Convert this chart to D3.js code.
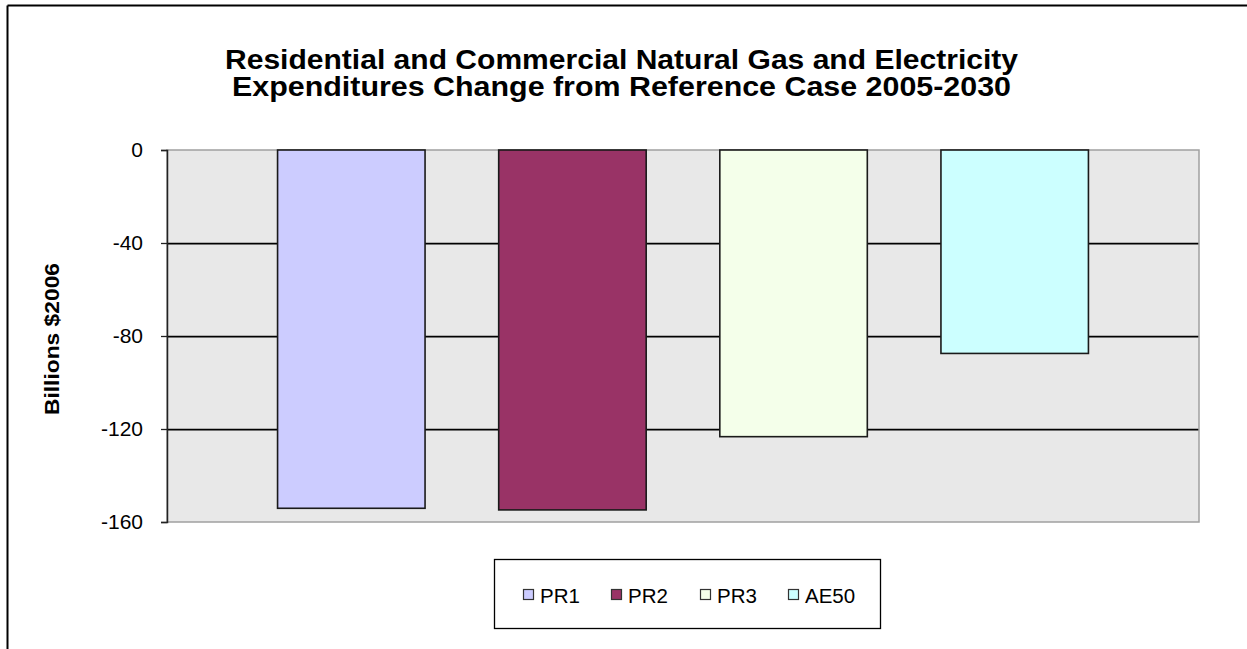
<!DOCTYPE html>
<html>
<head>
<meta charset="utf-8">
<script src="https://cdn.jsdelivr.net/npm/d3@7"></script>
<style>
  html, body { margin: 0; padding: 0; background: #fff; }
  svg { display: block; }
</style>
</head>
<body>
<svg id="chart" width="1247" height="649"></svg>
<script>
// ---- data ----
const titleLines = [
  "Residential and Commercial Natural Gas and Electricity",
  "Expenditures Change from Reference Case 2005-2030"
];
const yAxisTitle = "Billions $2006";
const seriesNames = ["PR1", "PR2", "PR3", "AE50"];
const seriesValues = [-154.1, -154.8, -123.3, -87.5];
const seriesColors = ["#CCCCFF", "#993366", "#F4FFEA", "#CCFFFF"];
const yTicks = [0, -40, -80, -120, -160];

// ---- layout ----
const svg = d3.select("#chart");
const W = 1247, H = 649;
const plot = { left: 167, right: 1199, top: 150, bottom: 522 };
const FONT = "'Liberation Sans', Arial, sans-serif";

// outer border (top + left visible)
svg.append("line").attr("x1", 7.5).attr("x2", W).attr("y1", 5.5).attr("y2", 5.5)
  .attr("stroke", "#000").attr("stroke-width", 2);
svg.append("line").attr("x1", 7.5).attr("x2", 7.5).attr("y1", 5.5).attr("y2", H)
  .attr("stroke", "#000").attr("stroke-width", 2);

// title
const titleWidths = [793, 779];
const title = svg.append("g");
titleLines.forEach((t, i) => {
  title.append("text")
    .attr("x", 621.5).attr("y", 68.5 + i * 27)
    .attr("text-anchor", "middle")
    .attr("font-family", FONT)
    .attr("font-weight", "bold")
    .attr("font-size", 27)
    .attr("textLength", titleWidths[i])
    .attr("lengthAdjust", "spacingAndGlyphs")
    .attr("fill", "#000")
    .text(t);
});

// scales
const y = d3.scaleLinear().domain([-160, 0]).range([plot.bottom, plot.top]);
const x = d3.scaleBand().domain(seriesNames).range([plot.left, plot.right])
  .paddingInner(0.333).paddingOuter(0.5);

// plot background
svg.append("rect")
  .attr("x", plot.left).attr("y", plot.top)
  .attr("width", plot.right - plot.left).attr("height", plot.bottom - plot.top)
  .attr("fill", "#E8E8E8");

// gridlines (skip 0 and -160 which sit on the border)
const grid = svg.append("g");
yTicks.filter(v => v !== 0 && v !== -160).forEach(v => {
  grid.append("line")
    .attr("x1", plot.left).attr("x2", plot.right)
    .attr("y1", Math.round(y(v)) + 1.5).attr("y2", Math.round(y(v)) + 1.5)
    .attr("stroke", "#999").attr("stroke-width", 1);
  grid.append("line")
    .attr("x1", plot.left).attr("x2", plot.right)
    .attr("y1", Math.round(y(v)) + 0.5).attr("y2", Math.round(y(v)) + 0.5)
    .attr("stroke", "#000").attr("stroke-width", 1.3);
});

// plot border (gray)
svg.append("rect")
  .attr("x", plot.left).attr("y", plot.top)
  .attr("width", plot.right - plot.left).attr("height", plot.bottom - plot.top)
  .attr("fill", "none").attr("stroke", "#A0A0A0").attr("stroke-width", 1.5);

// bars
svg.append("g").selectAll("rect")
  .data(seriesNames.map((n, i) => ({ name: n, value: seriesValues[i], color: seriesColors[i] })))
  .join("rect")
  .attr("x", d => x(d.name))
  .attr("y", d => y(Math.max(0, d.value)))
  .attr("width", x.bandwidth())
  .attr("height", d => Math.abs(y(d.value) - y(0)))
  .attr("fill", d => d.color)
  .attr("stroke", "#1a1a1a")
  .attr("stroke-width", 1.6);

// y axis
const yAxis = d3.axisLeft(y).tickValues(yTicks).tickSize(6).tickPadding(18)
  .tickFormat(d3.format("d"));
const ag = svg.append("g").attr("transform", `translate(${plot.left},0)`).call(yAxis);
ag.select(".domain").attr("stroke", "#222").attr("stroke-width", 1.5);
ag.selectAll(".tick line").attr("stroke", "#222").attr("stroke-width", 1.3);
ag.selectAll(".tick text")
  .attr("font-family", FONT)
  .attr("font-size", 21)
  .attr("fill", "#000")
  .text(d => d < 0 ? "-" + Math.abs(d) : String(d));

// y axis title
svg.append("text")
  .attr("transform", "translate(59,339) rotate(-90)")
  .attr("text-anchor", "middle")
  .attr("font-family", FONT)
  .attr("font-weight", "bold")
  .attr("font-size", 21)
  .attr("textLength", 152)
  .attr("lengthAdjust", "spacingAndGlyphs")
  .attr("fill", "#000")
  .text(yAxisTitle);

// legend
const legend = svg.append("g");
legend.append("rect")
  .attr("x", 494.5).attr("y", 559.5).attr("width", 386).attr("height", 69)
  .attr("fill", "#fff").attr("stroke", "#000").attr("stroke-width", 1.3);
const legendX = [523.5, 611.5, 700.5, 788.5];
seriesNames.forEach((n, i) => {
  legend.append("rect")
    .attr("x", legendX[i]).attr("y", 589.5).attr("width", 10).attr("height", 10)
    .attr("fill", seriesColors[i]).attr("stroke", "#333").attr("stroke-width", 1.2);
  legend.append("text")
    .attr("x", legendX[i] + 16.5).attr("y", 602.5)
    .attr("font-family", FONT)
    .attr("font-size", 20.5)
    .attr("fill", "#000")
    .text(n);
});
</script>
</body>
</html>
